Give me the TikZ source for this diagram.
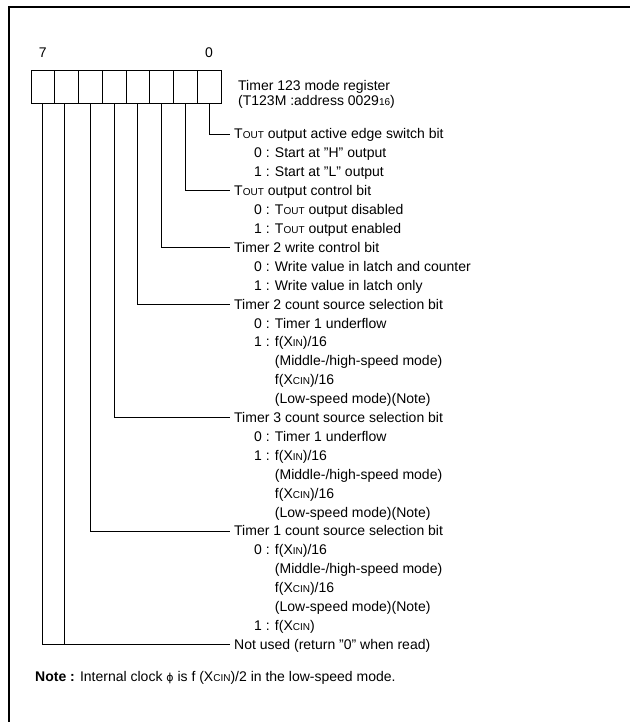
\documentclass[tikz,border=0pt]{standalone}
\usepackage{fontspec}
\setmainfont{Liberation Sans}
\newfontfamily\symfont{DejaVu Sans}
\newcommand\sm[1]{{\fontsize{10}{10}\selectfont #1}}
\newcommand\phisym{{\symfont\fontsize{11}{11}\selectfont ϕ}}
\tikzset{
  cell/.style={draw, line width=0.8pt, minimum width=23.75pt, minimum height=33pt, inner sep=0pt},
  lbl/.style={anchor=west, inner xsep=0pt, inner ysep=0pt, text height=11pt, text depth=1pt, font=\fontsize{14}{16}\selectfont},
  head/.style={lbl, inner xsep=4pt},
  wire/.style={line width=0.8pt},
}
\begin{document}
\begin{tikzpicture}[x=1pt,y=-1pt]
\useasboundingbox (0,0) rectangle (630,722);
% frame
\draw[line width=2.2pt] (9,722) -- (9,7) -- (630,7);
% register cells
\node[cell] (c7) at (42.875,86.5) {};
\node[cell] (c6) at (66.625,86.5) {};
\node[cell] (c5) at (90.375,86.5) {};
\node[cell] (c4) at (114.125,86.5) {};
\node[cell] (c3) at (137.875,86.5) {};
\node[cell] (c2) at (161.625,86.5) {};
\node[cell] (c1) at (185.375,86.5) {};
\node[cell] (c0) at (209.125,86.5) {};
\node[lbl, anchor=center] (b7) at (42.875,53) {7};
\node[lbl, anchor=center] (b0) at (209.125,53) {0};
% register title
\node[lbl] (t1) at (238,86) {Timer 123 mode register};
\node[lbl] (t2) at (238,101) {(T123M :address 0029\sm{16})};
% headings
\node[head] (h0) at (230,134.0) {T\sm{OUT} output active edge switch bit};
\node[lbl] (s01) at (254,152.9) {0 : Start at "H" output};
\node[lbl] (s02) at (254,171.8) {1 : Start at "L" output};
\node[head] (h1) at (230,190.7) {T\sm{OUT} output control bit};
\node[lbl] (s11) at (254,209.6) {0 : T\sm{OUT} output disabled};
\node[lbl] (s12) at (254,228.5) {1 : T\sm{OUT} output enabled};
\node[head] (h2) at (230,247.4) {Timer 2 write control bit};
\node[lbl] (s21) at (254,266.3) {0 : Write value in latch and counter};
\node[lbl] (s22) at (254,285.2) {1 : Write value in latch only};
\node[head] (h3) at (230,304.1) {Timer 2 count source selection bit};
\node[lbl] (s31) at (254,323.0) {0 : Timer 1 underflow};
\node[lbl] (s32) at (254,341.9) {1 : f(X\sm{IN})/16};
\node[lbl] (s33) at (254,360.8) {\phantom{1 : }(Middle-/high-speed mode)};
\node[lbl] (s34) at (254,379.7) {\phantom{1 : }f(X\sm{CIN})/16};
\node[lbl] (s35) at (254,398.6) {\phantom{1 : }(Low-speed mode)(Note)};
\node[head] (h4) at (230,417.5) {Timer 3 count source selection bit};
\node[lbl] (s41) at (254,436.4) {0 : Timer 1 underflow};
\node[lbl] (s42) at (254,455.3) {1 : f(X\sm{IN})/16};
\node[lbl] (s43) at (254,474.2) {\phantom{1 : }(Middle-/high-speed mode)};
\node[lbl] (s44) at (254,493.1) {\phantom{1 : }f(X\sm{CIN})/16};
\node[lbl] (s45) at (254,512.0) {\phantom{1 : }(Low-speed mode)(Note)};
\node[head] (h5) at (230,530.9) {Timer 1 count source selection bit};
\node[lbl] (s51) at (254,549.8) {0 : f(X\sm{IN})/16};
\node[lbl] (s52) at (254,568.7) {\phantom{1 : }(Middle-/high-speed mode)};
\node[lbl] (s53) at (254,587.6) {\phantom{1 : }f(X\sm{CIN})/16};
\node[lbl] (s54) at (254,606.5) {\phantom{1 : }(Low-speed mode)(Note)};
\node[lbl] (s55) at (254,625.4) {1 : f(X\sm{CIN})};
\node[head] (h6) at (230,644.3) {Not used (return "0" when read)};
% note
\node[lbl] (note) at (35,676) {\textbf{Note :} Internal clock \phisym\ is f (X\sm{CIN})/2 in the low-speed mode.};
% connectors
\draw[wire] (c0.south) |- (h0.west);
\draw[wire] (c1.south) |- (h1.west);
\draw[wire] (c2.south) |- (h2.west);
\draw[wire] (c3.south) |- (h3.west);
\draw[wire] (c4.south) |- (h4.west);
\draw[wire] (c5.south) |- (h5.west);
\draw[wire] (c7.south) |- (h6.west);
\draw[wire] ([xshift=-2.5pt]c6.south) -- ([xshift=-2.5pt]c6.south |- h6.west);
\end{tikzpicture}
\end{document}
